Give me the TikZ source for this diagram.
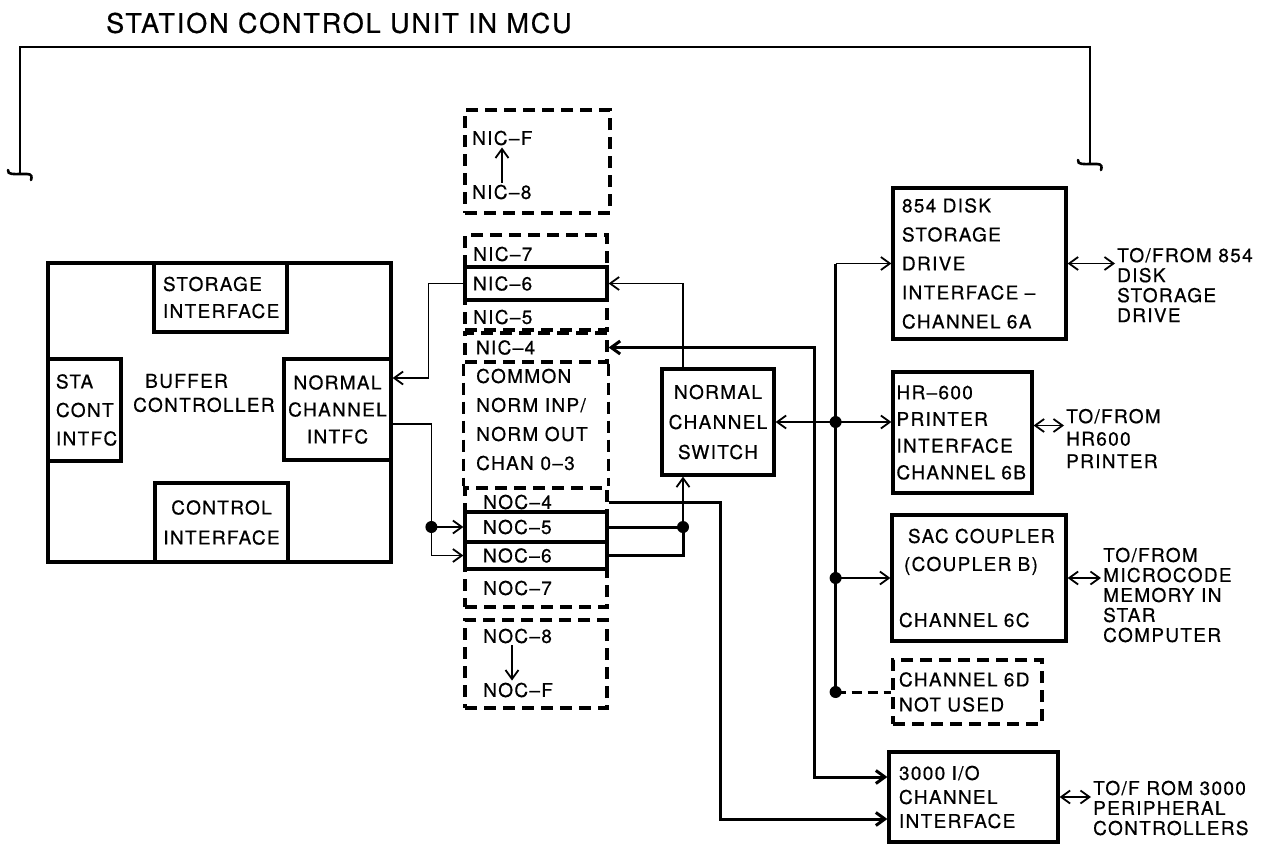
\documentclass[tikz,border=0pt]{standalone}
\usepackage{fontspec}
\setmainfont{TeX Gyre Heros}[LetterSpace=7, FakeBold=0.6]
\usetikzlibrary{arrows.meta}
\newcommand{\lettering}[1]{\fontsize{19}{#1}\selectfont}
\tikzset{
  blk/.style={draw, line width=3.2pt, inner xsep=3pt, inner ysep=0pt, align=left, font=\lettering{20}},
  dblk/.style={blk, dash pattern=on 12pt off 7pt},
  dline/.style={line width=3.2pt, dash pattern=on 12pt off 7pt},
  txt/.style={anchor=west, align=left, inner sep=2pt, font=\lettering{#1}},
  txt/.default=20,
  wire/.style={line width=1.8pt},
  bus/.style={line width=3pt}
}

\begin{document}
\begin{tikzpicture}[x=1pt, y=-1pt, >={Straight Barb[length=9pt,width=13pt]}]
  \path[fill=white] (0,0) rectangle (1288,844);

  % title and bracket
  \node[anchor=west, inner sep=2pt, font=\fontsize{27}{30}\selectfont] (title) at (104,23) {STATION CONTROL UNIT IN MCU};
  \draw[line width=2.2pt] (20,174) |- (1090,47) -- (1090,164);
  \foreach \x/\y in {20/174,1090/164}
    \draw[line width=2.6pt, line cap=round] ({\x-12},{\y-4}) .. controls ({\x-13},{\y+1}) and ({\x-5},\y) .. (\x,\y)
      -- ({\x+7},\y) .. controls ({\x+12},\y) and ({\x+12},{\y+3}) .. ({\x+11},{\y+6});

  % buffer controller
  \node[blk, minimum width=343pt, minimum height=299pt] (buf) at (219.5,412.5) {};
  \node[txt=24] (bufname) at (131,393) {\hspace*{12pt}BUFFER\\CONTROLLER};
  \node[blk, minimum width=133pt, minimum height=69pt, text width=115pt, font=\lettering{27}] (stor) at (220.5,297.5) {STORAGE\\INTERFACE};
  \node[blk, minimum width=73pt, minimum height=102pt, text width=57pt, font=\lettering{28.5}] (sta) at (84.5,410) {STA\\CONT\\INTFC};
  \node[blk, align=center, minimum width=107pt, minimum height=101pt, font=\lettering{27}] (nci) at (337.5,409.5) {NORMAL\\CHANNEL\\INTFC};
  \node[blk, align=center, minimum width=133pt, minimum height=79pt, font=\lettering{30}] (ctl) at (221.5,522.5) {CONTROL\\INTERFACE};

  % input channels
  \node[dblk, minimum width=145pt, minimum height=103pt] (nichi) at (537.5,161.5) {};
  \node[txt] (nicF) at (470,138) {NIC--F};
  \node[txt] (nic8) at (470,192) {NIC--8};
  \draw[wire,->] ([xshift=32pt]nic8.north west) -- ([xshift=32pt]nicF.south west);
  \node[dblk, minimum width=142pt, minimum height=95pt] (nicgrp) at (536,282.5) {};
  \node[txt] (nic7) at (471,254) {NIC--7};
  \node[blk, minimum width=142pt, minimum height=33pt, text width=126pt] (nic6) at (536,283.5) {NIC--6};
  \node[txt] (nic5) at (471,317) {NIC--5};
  \node[dblk, minimum width=142pt, minimum height=29pt, text width=120pt] (nic4) at (536,347.5) {NIC--4};
  \node[txt=29] (common) at (474,419.5) {COMMON\\NORM INP/\\NORM OUT\\CHAN 0--3};

  % output channels
  \node[dblk, minimum width=142pt, minimum height=119pt] (nocgrp) at (536,547.5) {};
  \draw[dline] (nic4.south west) -- (nocgrp.north west);
  \draw[dline] (nic4.south east) -- (nocgrp.north east);
  \node[txt] (noc4) at (481,502) {NOC--4};
  \node[blk, minimum width=142pt, minimum height=30pt, text width=106pt] (noc5) at (536,527) {NOC--5};
  \node[blk, minimum width=142pt, minimum height=27pt, text width=106pt] (noc6) at (536,555.5) {NOC--6};
  \node[txt] (noc7) at (481,588) {NOC--7};
  \node[dblk, minimum width=142pt, minimum height=88pt] (noclo) at (536,664) {};
  \node[txt] (noc8) at (481,636) {NOC--8};
  \node[txt] (nocF) at (481,690) {NOC--F};
  \draw[wire,->] ([xshift=31pt]noc8.south west) -- ([xshift=31pt]nocF.north west);

  % switch and channel 6 interfaces
  \node[blk, align=center, minimum width=112pt, minimum height=106pt, font=\lettering{30}] (sw) at (718,422) {NORMAL\\CHANNEL\\SWITCH};
  \node[blk, minimum width=173pt, minimum height=151pt, text width=155pt, font=\lettering{29}] (disk) at (979.5,263.5) {854 DISK\\STORAGE\\DRIVE\\INTERFACE --\\CHANNEL 6A};
  \node[blk, minimum width=139pt, minimum height=121pt, text width=132pt, font=\lettering{26.7}] (hr) at (962.5,432.5) {HR--600\\PRINTER\\INTERFACE\\CHANNEL 6B};
  \node[blk, minimum width=174pt, minimum height=126pt, text width=160pt, font=\lettering{28}] (sac) at (979,578) {\hspace*{9pt}SAC COUPLER\\\hspace*{5pt}(COUPLER B)\\[28pt]CHANNEL 6C};
  \node[dblk, minimum width=149pt, minimum height=64pt, text width=137pt, font=\lettering{25}] (d6) at (967.5,692) {CHANNEL 6D\\NOT USED};
  \node[blk, minimum width=169pt, minimum height=90pt, text width=149pt, font=\lettering{24}] (io) at (973.5,797) {3000 I/O\\CHANNEL\\INTERFACE};

  % outside devices
  \node[txt] (todisk) at (1115,285) {TO/FROM 854\\DISK\\STORAGE\\DRIVE};
  \node[txt=22.5] (tohr) at (1064,438.5) {TO/FROM\\HR600\\PRINTER};
  \node[txt] (tosac) at (1101,595) {TO/FROM\\MICROCODE\\MEMORY IN\\STAR\\COMPUTER};
  \node[txt] (toio) at (1091,808) {TO/F ROM 3000\\PERIPHERAL\\CONTROLLERS};

  % left side wiring
  \draw[wire,->] (nic6.west) -- ++(-35,0) |- ([yshift=31.5pt]nci.east);
  \coordinate (jl) at ([xshift=-32pt]noc5.west);
  \draw[wire,->] ([yshift=-14.5pt]nci.east) -| (jl) |- (noc6.west);
  \draw[wire,->] (jl) -- (noc5.west);
  \fill (jl) circle (6pt);

  % switch wiring
  \coordinate (swin) at ([xshift=-35pt]sw.south);
  \coordinate (jr) at (swin |- noc5.east);
  \draw[bus] (noc5.east) -- (jr);
  \draw[bus] (noc6.east) -| (jr);
  \draw[wire,->] (jr) -- (swin);
  \fill (jr) circle (6pt);
  \draw[wire,->] ([xshift=-35pt]sw.north) |- (nic6.east);

  % to the 3000 interface
  \draw[bus,<->] (nic4.east) -- ++(206,0) |- ([yshift=20pt]io.west);
  \draw[bus,->] (noc4 -| nocgrp.east) -- ++(112,0) |- ([yshift=-22pt]io.west);

  % channel 6 bus
  \coordinate (b2) at ([xshift=60pt]sw.east);
  \coordinate (b1) at (b2 |- disk.west);
  \coordinate (b3) at (b2 |- sac.west);
  \coordinate (b4) at (b2 |- d6.west);
  \draw[bus] (b1) -- (b4);
  \draw[wire,<->] (sw.east) -- (sw.east -| hr.west);
  \draw[wire,->] (b1) -- (disk.west);
  \draw[wire,->] (b3) -- (sac.west);
  \draw[bus, dash pattern=on 10pt off 6pt] (b4) -- (d6.west);
  \foreach \p in {b2,b3,b4}
    \fill (\p) circle (6pt);

  % device links
  \coordinate (hrport) at ([yshift=7pt]hr.east);
  \draw[wire,<->] (disk.east) -- (disk.east -| todisk.west);
  \draw[wire,<->] (hrport) -- (hrport -| tohr.west);
  \draw[wire,<->] (sac.east) -- (sac.east -| tosac.west);
  \draw[wire,<->] (io.east) -- (io.east -| toio.west);
\end{tikzpicture}
\end{document}
